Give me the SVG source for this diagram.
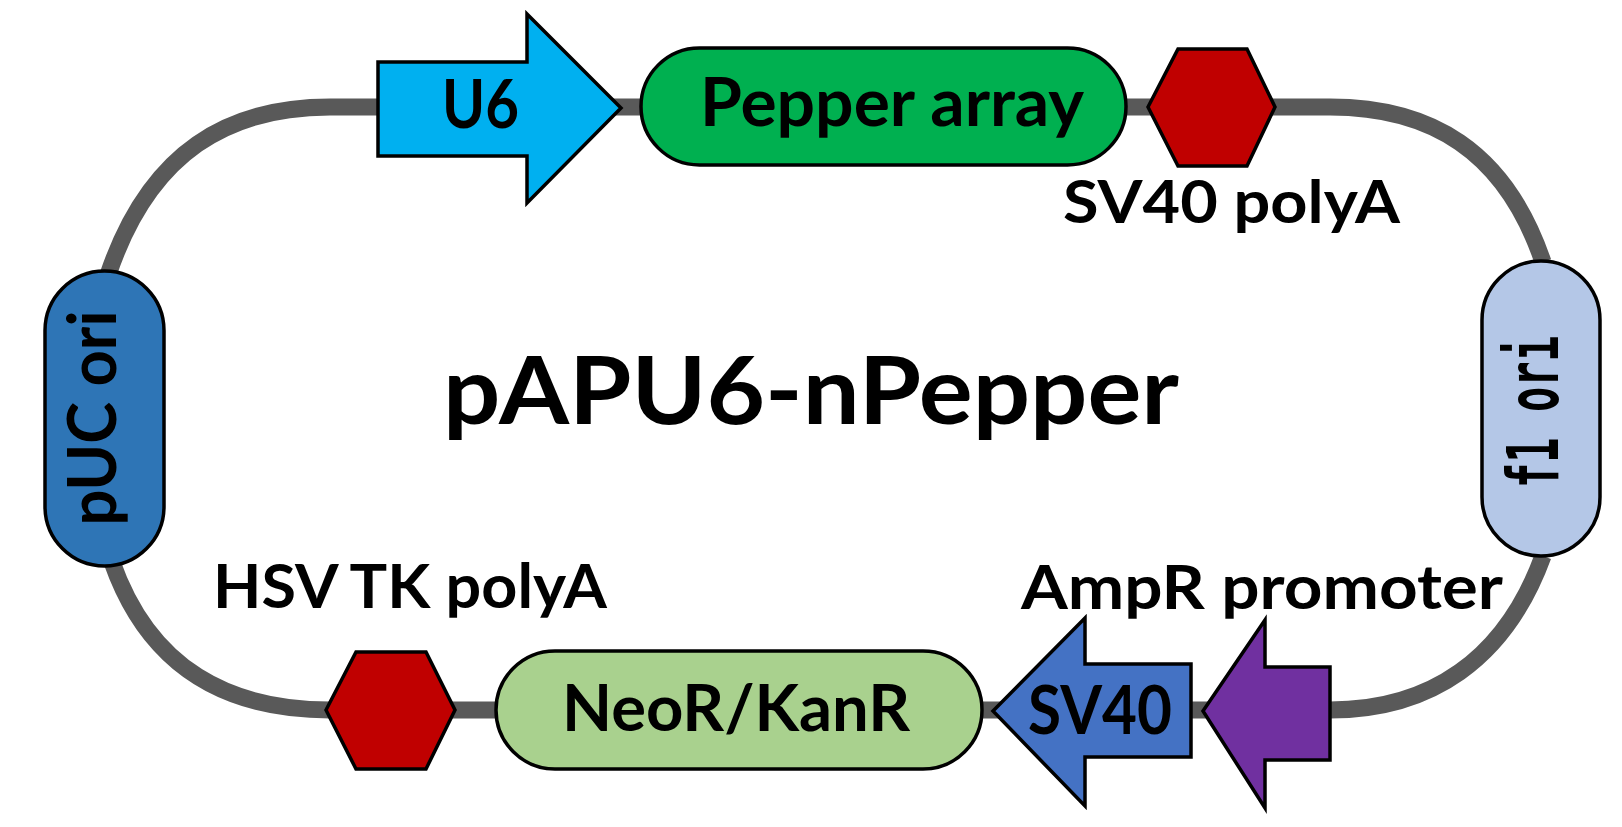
<svg xmlns="http://www.w3.org/2000/svg" width="1622" height="827" viewBox="0 0 1622 827">
<style>
.shape{stroke:#000;stroke-width:3.5;stroke-linejoin:miter}
.lbl{font-family:Lato,"Open Sans","Liberation Sans",sans-serif;font-weight:bold;fill:#000;text-anchor:middle}
.mono{font-family:"DejaVu Sans Mono","Liberation Mono",monospace;font-weight:bold;fill:#000;text-anchor:middle}
.bb{fill:none;stroke:#595959;stroke-width:17}
</style>
<rect width="1622" height="827" fill="#fff"/>
<g id="connectors">
<path class="bb" d="M108,275 C150,150 230,107 330,107 L1330,107 C1430,107 1505,150 1543,262"/>
<path class="bb" d="M1543,556 C1505,660 1430,710 1330,710 L330,710 C230,710 150,670 112,562"/>
</g>
<g id="puc-ori">
<rect class="shape" x="45" y="271" width="119" height="295" rx="59.5" fill="#2E75B6"/>
<text class="lbl" font-size="66" transform="translate(116,418) rotate(-90)" textLength="215" lengthAdjust="spacingAndGlyphs">pUC ori</text>
</g>
<g id="f1-ori">
<rect class="shape" x="1482" y="261" width="118" height="295" rx="59" fill="#B4C7E7"/>
<text class="mono" font-size="72" transform="translate(1558,412) rotate(-90)" textLength="152" lengthAdjust="spacingAndGlyphs">f1 ori</text>
</g>
<g id="u6">
<polygon class="shape" points="378,62 527,62 527,14 621,108 527,203 527,156 378,156" fill="#00B0F0"/>
<text class="lbl" font-size="66" x="480.5" y="128" textLength="77" lengthAdjust="spacingAndGlyphs">U6</text>
</g>
<g id="pepper-array">
<rect class="shape" x="641" y="48" width="485" height="117" rx="58.5" fill="#00B050"/>
<text class="lbl" font-size="66" x="892" y="126" textLength="384" lengthAdjust="spacingAndGlyphs">Pepper array</text>
</g>
<g id="sv40-polya">
<polygon class="shape" points="1148,107 1178,49 1247,49 1275,107 1247,166 1178,166" fill="#C00000"/>
<text class="lbl" font-size="59" x="1231.5" y="223" textLength="337" lengthAdjust="spacingAndGlyphs">SV40 polyA</text>
</g>
<g id="title">
<text class="lbl" font-size="94" x="811" y="424" textLength="736" lengthAdjust="spacingAndGlyphs">pAPU6-nPepper</text>
</g>
<g id="hsv-tk-polya">
<polygon class="shape" points="326,710 356,652 426,652 455,710 426,769 356,769" fill="#C00000"/>
<text class="lbl" font-size="61" x="410" y="608" textLength="394" lengthAdjust="spacingAndGlyphs">HSV TK polyA</text>
</g>
<g id="neor-kanr">
<rect class="shape" x="496" y="651" width="486" height="118" rx="59" fill="#A9D18E"/>
<text class="lbl" font-size="65" x="736" y="731" textLength="348" lengthAdjust="spacingAndGlyphs">NeoR/KanR</text>
</g>
<g id="sv40">
<polygon class="shape" points="993,711 1085,618 1085,664 1191,664 1191,757 1085,757 1085,806" fill="#4472C4"/>
<text class="lbl" font-size="66" x="1100" y="734" textLength="144" lengthAdjust="spacingAndGlyphs">SV40</text>
</g>
<g id="ampr-promoter">
<polygon class="shape" points="1203,711 1265,620 1265,667 1330,667 1330,760 1265,760 1265,808" fill="#7030A0"/>
<text class="lbl" font-size="61" x="1262" y="609" textLength="482" lengthAdjust="spacingAndGlyphs">AmpR promoter</text>
</g>
</svg>
